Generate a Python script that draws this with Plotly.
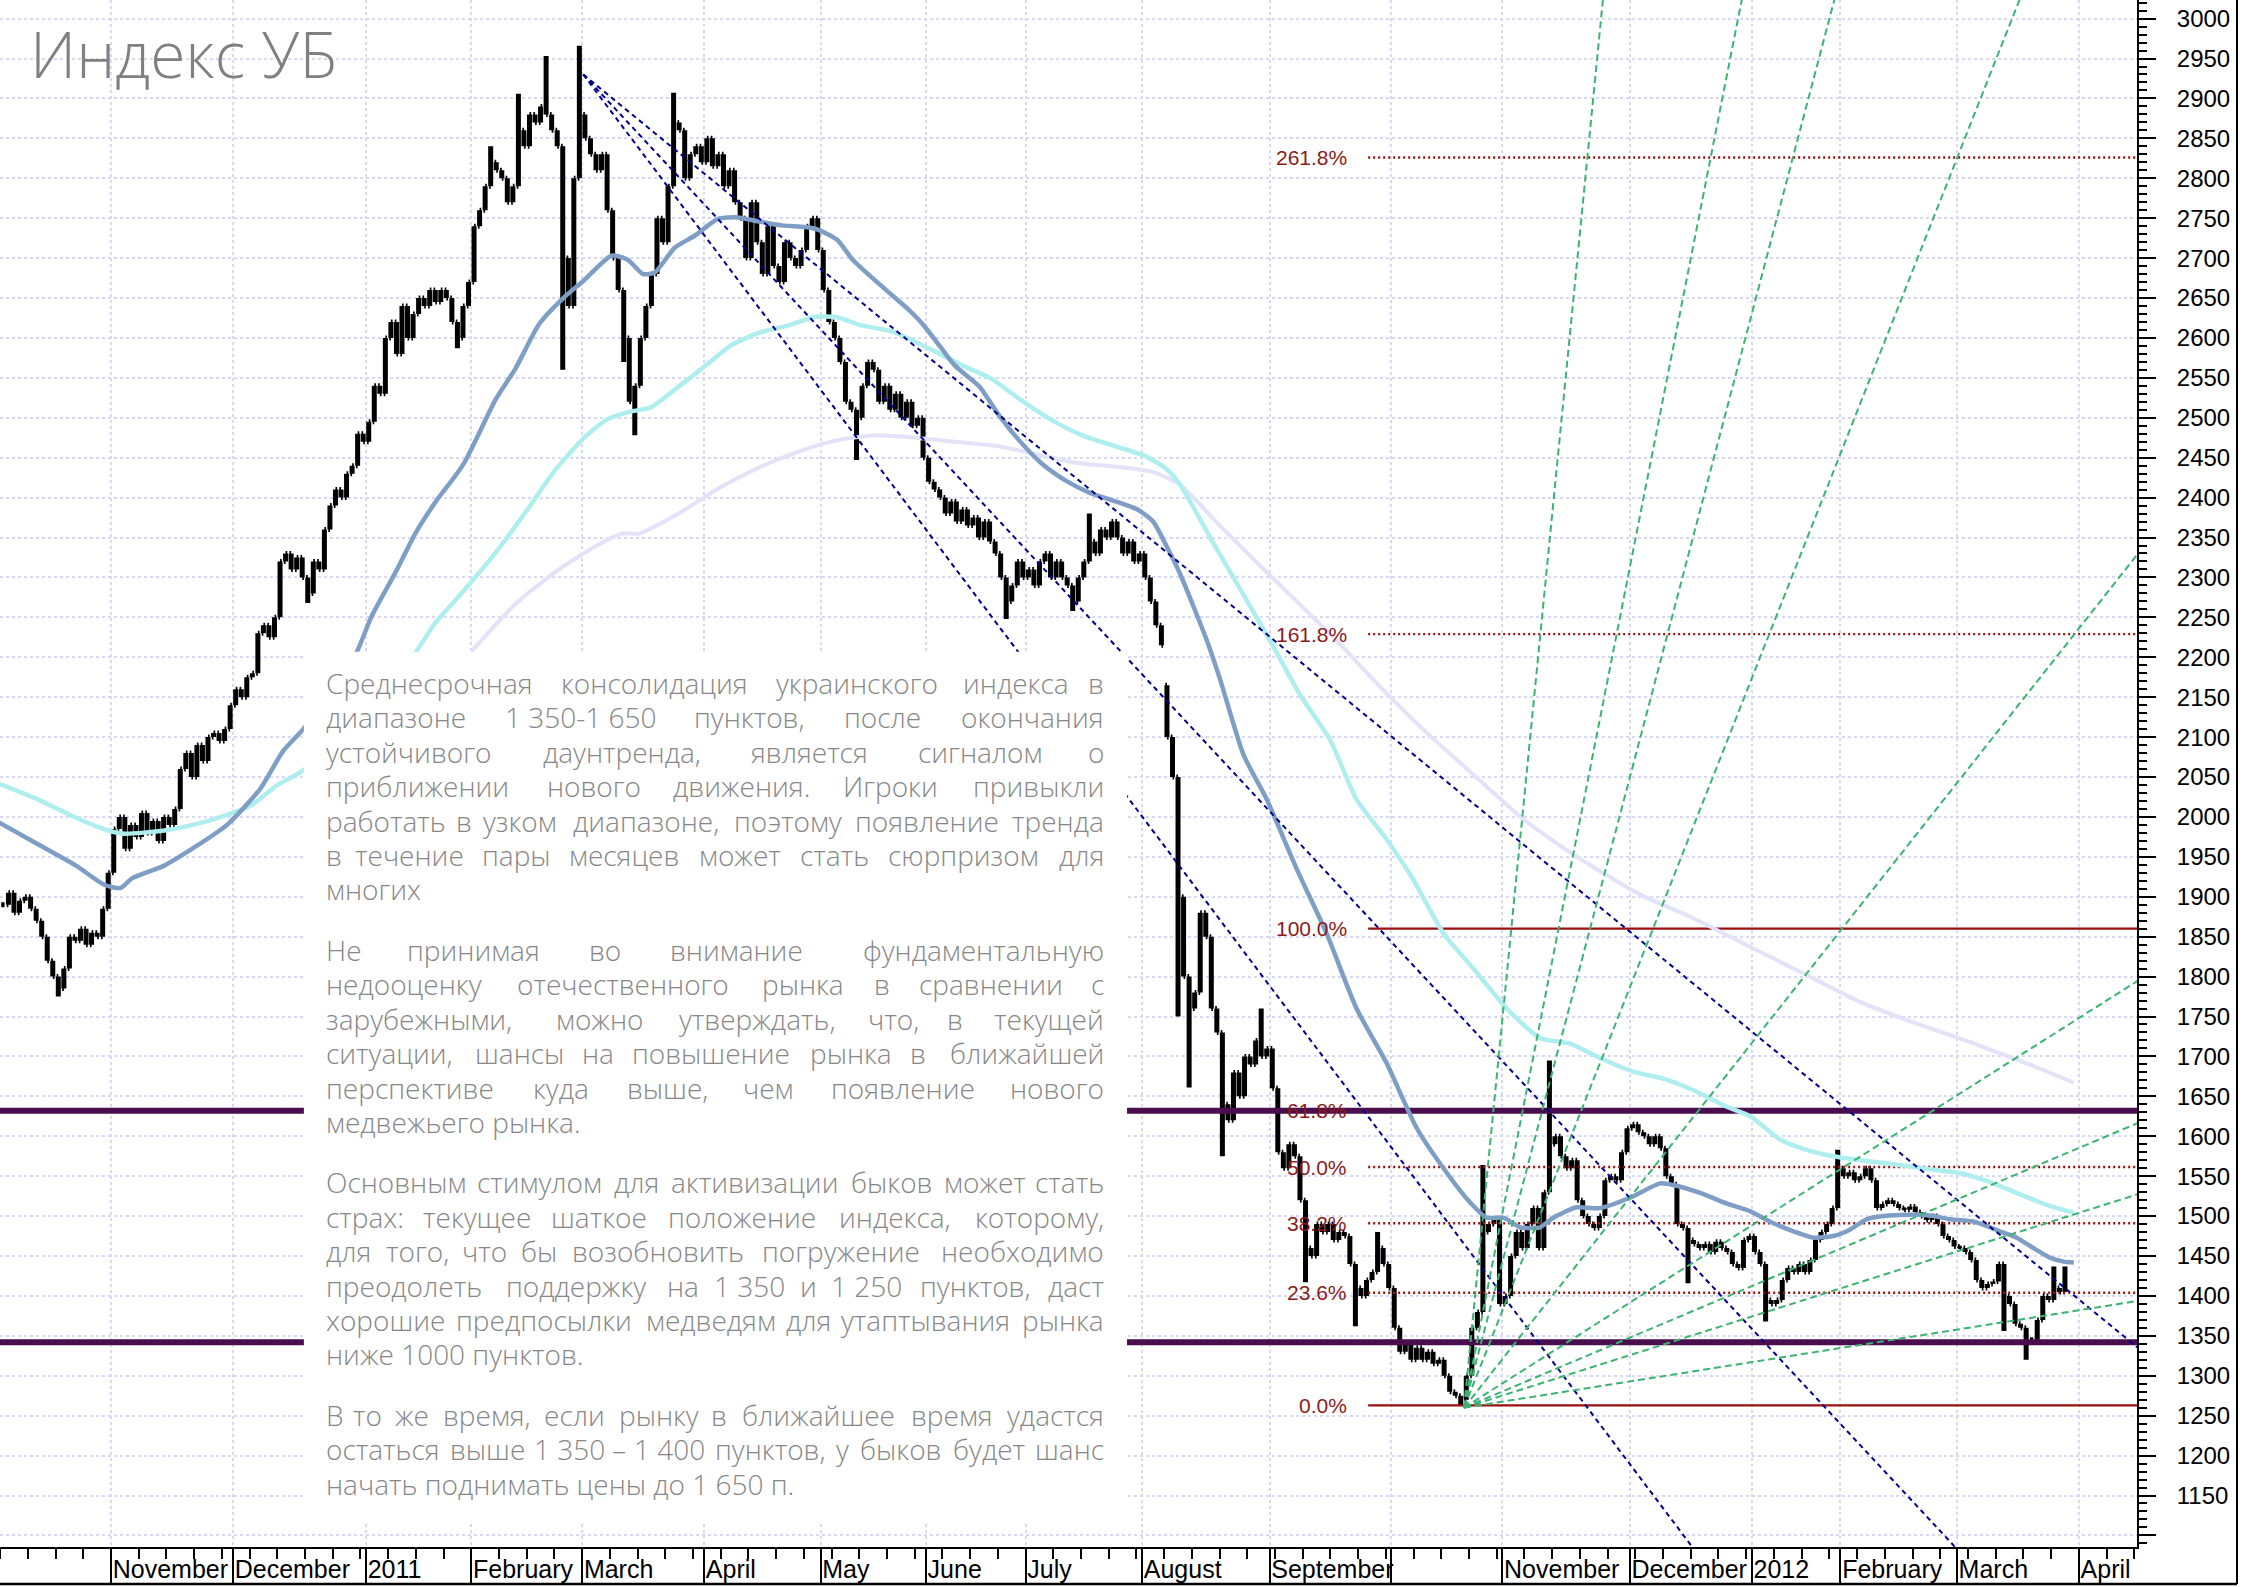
import plotly.graph_objects as go

# ---------------- data ----------------
# daily closes, trading-day index 0..372 (Oct 2010 .. end of March 2012)
close = [
    1890, 1905, 1880, 1895, 1900, 1885, 1870, 1850, 1820, 1800,
    1785, 1810, 1850, 1845, 1860, 1840, 1855, 1850, 1885, 1930,
    1985, 2000, 1960, 1990, 1975, 2005, 1980, 1995, 1970, 2000,
    1990, 2010, 2060, 2080, 2050, 2090, 2070, 2100, 2105, 2095,
    2110, 2140, 2160, 2150, 2175, 2180, 2230, 2240, 2225, 2250,
    2320, 2330, 2310, 2325, 2300, 2280, 2320, 2310, 2360, 2390,
    2410, 2400, 2430, 2440, 2480, 2470, 2495, 2540, 2530, 2600,
    2620, 2580, 2640, 2600, 2630, 2650, 2640, 2660, 2645, 2660,
    2650, 2620, 2600, 2640, 2670, 2740, 2760, 2790, 2820, 2810,
    2800, 2770, 2790, 2860, 2840, 2880, 2870, 2890, 2880, 2860,
    2840, 2700, 2640, 2800, 2880, 2850, 2830, 2810, 2830, 2760,
    2700, 2660, 2600, 2520, 2540, 2600, 2640, 2680, 2750, 2720,
    2790, 2870, 2860, 2800, 2830, 2840, 2820, 2850, 2815, 2830,
    2790, 2810, 2770, 2750, 2700, 2770, 2720, 2680, 2740, 2690,
    2670, 2720, 2700, 2690, 2710, 2740, 2750, 2710, 2660, 2620,
    2600, 2570, 2520, 2510, 2500, 2540, 2570, 2560, 2520, 2540,
    2510, 2530, 2500, 2520, 2490, 2500, 2450, 2420, 2410, 2400,
    2380, 2395, 2370, 2385, 2365, 2375, 2350, 2370, 2345, 2330,
    2300, 2270, 2290, 2320, 2300, 2310, 2290, 2320, 2330, 2300,
    2320, 2300, 2290, 2270, 2300, 2320, 2345, 2330, 2360, 2350,
    2370, 2350, 2330, 2345, 2320, 2330, 2300, 2270, 2240, 2215,
    2100, 2050, 1900, 1800, 1760, 1780, 1880, 1850, 1760, 1730,
    1640, 1620, 1680, 1650, 1700, 1690, 1720, 1700, 1710, 1660,
    1580, 1560, 1590, 1575, 1520, 1460, 1450, 1490, 1480, 1490,
    1470, 1480, 1475, 1440, 1410, 1400, 1420, 1430, 1460, 1440,
    1410, 1360, 1330, 1340, 1320, 1335, 1320, 1330, 1315, 1320,
    1300, 1280, 1275, 1270, 1300, 1360, 1380, 1480, 1490, 1495,
    1390, 1400, 1450, 1480, 1460, 1490, 1510, 1460, 1530, 1590,
    1600, 1575, 1560, 1570, 1520, 1500, 1490, 1485, 1500, 1545,
    1550, 1545, 1580, 1610, 1615, 1605, 1600, 1590, 1600, 1585,
    1550, 1540, 1490, 1485, 1470, 1465, 1460, 1465, 1455, 1468,
    1460, 1455, 1440, 1435, 1470, 1475, 1455, 1440, 1395, 1390,
    1395, 1420, 1435, 1430, 1440, 1430, 1445, 1470, 1480, 1490,
    1510, 1560, 1550, 1555, 1545, 1550, 1560, 1545, 1510, 1515,
    1520, 1515, 1510, 1508, 1512, 1505, 1500, 1495, 1500, 1490,
    1475, 1470, 1462, 1460, 1455, 1445, 1420, 1410, 1415, 1418,
    1440, 1400, 1390, 1365, 1360, 1345, 1345, 1370, 1400, 1395,
    1410, 1405, 1420,
]
gap_open = {210: 2165}
wick_hi = {88: 2840, 93: 2906, 98: 2953, 104: 2966, 121: 2907, 196: 2380,
           227: 1760, 248: 1480, 267: 1564, 279: 1695, 331: 1583, 370: 1437, 372: 1437}
wick_lo = {10: 1775, 55: 2268, 82: 2587, 101: 2560, 112: 2570, 114: 2478, 154: 2447,
           181: 2248, 193: 2258, 212: 1750, 214: 1661, 220: 1575, 235: 1417, 244: 1362,
           263: 1263, 304: 1416, 318: 1368, 361: 1356, 365: 1320}

month_ticks = [19.5, 41.5, 65.5, 84.5, 104.5, 126.5, 147.5, 166.5, 184.5, 205.5,
               228.5, 250.5, 270.5, 293.5, 315.5, 331.5, 352.5, 374.5]
month_labels = ["November", "December", "2011", "February", "March", "April", "May",
                "June", "July", "August", "September", "", "November", "December",
                "2012", "February", "March", "April"]
y_tick_vals = list(range(1100, 3001, 50))
y_tick_text = ["" if v == 1100 else str(v) for v in y_tick_vals]

ma_blue = [(-1.2, 1995), (6.0, 1967), (13.2, 1939), (18.3, 1915), (21.2, 1911), (23.3, 1923),
           (29.1, 1939), (34.8, 1963), (40.6, 1991), (46.4, 2035), (50.6, 2083), (54.3, 2111),
           (63.6, 2203), (66.5, 2251), (70.8, 2306), (74.4, 2355), (78.0, 2394), (83.1, 2442),
           (88.9, 2523), (92.5, 2562), (96.8, 2618), (101.1, 2650), (104.8, 2672), (109.8, 2703),
           (112.7, 2698), (115.5, 2680), (117.6, 2682), (121.2, 2713), (124.8, 2728), (129.0, 2749),
           (132.6, 2751), (136.2, 2746), (140.5, 2741), (144.8, 2739), (146.9, 2736), (150.5, 2723),
           (153.3, 2698), (159.0, 2662), (163.3, 2636), (166.1, 2616), (169.0, 2590), (171.8, 2565),
           (176.2, 2539), (179.7, 2503), (183.3, 2472), (187.5, 2442), (191.8, 2421), (196.1, 2406),
           (200.4, 2396), (204.7, 2385), (207.5, 2370), (210.3, 2334), (212.4, 2304), (217.2, 2221),
           (219.6, 2172), (223.8, 2078), (228.0, 2022), (233.4, 1935), (238.8, 1854), (244.2, 1760),
           (249.6, 1692), (255.0, 1611), (260.5, 1554), (264.7, 1517), (267.7, 1498), (270.7, 1498),
           (273.7, 1486), (277.3, 1486), (279.7, 1498), (283.9, 1511), (288.1, 1510), (293.5, 1523),
           (299.0, 1541), (301.3, 1539), (306.2, 1529), (310.9, 1516), (315.2, 1506), (319.4, 1491),
           (323.0, 1481), (326.6, 1473), (330.2, 1475), (333.2, 1483), (336.2, 1496), (339.3, 1500),
           (345.2, 1502), (348.3, 1500), (351.2, 1496), (355.6, 1493), (360.2, 1481), (363.3, 1473),
           (366.3, 1460), (369.3, 1448), (371.8, 1443), (373.6, 1442)]
ma_cyan = [(-1.2, 2043), (6.0, 2023), (13.2, 1999), (19.0, 1983), (21.9, 1979), (29.1, 1983),
           (34.8, 1991), (40.6, 2003), (44.9, 2015), (49.3, 2039), (54.3, 2059), (74.1, 2203),
           (78.0, 2243), (83.1, 2283), (88.9, 2331), (93.9, 2378), (99.7, 2435), (104.7, 2474),
           (109.0, 2498), (113.4, 2508), (116.9, 2513), (121.9, 2539), (127.6, 2570), (131.2, 2590),
           (136.2, 2606), (141.9, 2616), (146.2, 2626), (150.5, 2626), (154.7, 2616), (160.5, 2608),
           (164.7, 2595), (169.0, 2580), (173.3, 2565), (178.3, 2549), (183.3, 2524), (189.0, 2498),
           (194.7, 2478), (200.4, 2465), (206.1, 2452), (209.7, 2437), (212.4, 2416), (217.8, 2350),
           (223.0, 2288), (228.6, 2221), (234.0, 2153), (239.4, 2097), (244.2, 2022), (249.6, 1972),
           (254.4, 1922), (259.9, 1854), (265.3, 1810), (271.3, 1760), (277.3, 1723), (282.7, 1716),
           (288.1, 1698), (294.1, 1681), (300.1, 1671), (304.9, 1658), (311.0, 1637), (315.2, 1625),
           (320.6, 1596), (325.4, 1583), (330.2, 1575), (336.2, 1569), (342.2, 1564), (348.3, 1558),
           (353.0, 1554), (357.9, 1544), (363.3, 1529), (368.7, 1514), (373.6, 1504)]
ma_lav = [(84.5, 2207), (92.5, 2267), (99.7, 2307), (106.9, 2339), (111.8, 2355), (114.8, 2355),
          (121.9, 2380), (129.0, 2411), (136.2, 2437), (143.3, 2457), (150.5, 2472), (157.6, 2478),
          (164.7, 2475), (171.8, 2470), (179.0, 2465), (186.1, 2455), (193.3, 2444), (200.4, 2439),
          (207.5, 2432), (212.4, 2416), (219.1, 2368), (226.9, 2314), (240.6, 2221), (247.2, 2172),
          (256.3, 2109), (265.3, 2053), (274.3, 1997), (283.3, 1953), (295.3, 1903), (304.4, 1875),
          (314.7, 1839), (325.1, 1803), (335.4, 1767), (345.7, 1740), (353.7, 1721), (360.2, 1704),
          (366.3, 1688), (373.6, 1667)]

fib_low, fib_high = 1263, 1860
fib_ratios = [0.0, 0.236, 0.382, 0.5, 0.618, 1.0, 1.618, 2.618]
fib_labels = ["0.0%", "23.6%", "38.2%", "50.0%", "61.8%", "100.0%", "161.8%", "261.8%"]
fib_start = 246.3
fib_label_x = 242.8
sr_levels = [1342, 1632]

trend_pivot = (104.7, 2930)
trend_slopes = [-5.687, -7.453, -9.219]
fan_origin = (263.6, 1260)
fan_unit = 8.8
fan_ratios = [8, 4, 3, 2, 1, 1 / 2, 1 / 3, 1 / 4, 1 / 8]

paragraphs = [
    ["Среднесрочная консолидация украинского индекса в",
     "диапазоне 1\u00a0350-1\u00a0650 пунктов, после окончания",
     "устойчивого даунтренда, является сигналом о",
     "приближении нового движения. Игроки привыкли",
     "работать в узком диапазоне, поэтому появление тренда",
     "в течение пары месяцев может стать сюрпризом для",
     "многих"],
    ["Не принимая во внимание фундаментальную",
     "недооценку отечественного рынка в сравнении с",
     "зарубежными, можно утверждать, что, в текущей",
     "ситуации, шансы на повышение рынка в ближайшей",
     "перспективе куда выше, чем появление нового",
     "медвежьего рынка."],
    ["Основным стимулом для активизации быков может стать",
     "страх: текущее шаткое положение индекса, которому,",
     "для того, что бы возобновить погружение необходимо",
     "преодолеть поддержку на 1\u00a0350 и 1\u00a0250 пунктов, даст",
     "хорошие предпосылки медведям для утаптывания рынка",
     "ниже 1000 пунктов."],
    ["В то же время, если рынку в ближайшее время удастся",
     "остаться выше 1\u00a0350 – 1\u00a0400 пунктов, у быков будет шанс",
     "начать поднимать цены до 1\u00a0650 п."],
]
title_text = "Индекс УБ"

# ---------------- layout constants ----------------
W, H = 2246, 1587
PLOT_R, PLOT_B = 2137, 1547
X_RANGE = [-0.52, 385.0]
Y_RANGE = [1085.5, 3023.3]
AXIS_FONT = "Liberation Sans, Arial, sans-serif"
NARROW = "Liberation Sans Narrow, Arial Narrow, Liberation Sans, sans-serif"
TEXT_FONT = "Open Sans, Noto Sans, sans-serif"
TEXT_SIZE = 28
TEXT_COLOR = "#878787"
TEXT_L, TEXT_R = 324, 1106
LINE0, LINE_H, PARA_STEP = 683, 34.4, 60.5


def px(xp):
    return xp / PLOT_R


def py(yp):
    return 1 - yp / PLOT_B


# ---------------- figure ----------------
n = len(close)
xs = list(range(n))
opens = [close[0]] + close[:-1]
for k, v in gap_open.items():
    opens[k] = v
highs = [max(o, c, wick_hi.get(i, c)) for i, (o, c) in enumerate(zip(opens, close))]
lows = [min(o, c, wick_lo.get(i, c)) for i, (o, c) in enumerate(zip(opens, close))]

fig = go.Figure()

# fib levels
for r, lab in zip(fib_ratios, fib_labels):
    lvl = fib_low + r * (fib_high - fib_low)
    solid = r in (0.0, 1.0)
    fig.add_trace(go.Scatter(x=[fib_start, X_RANGE[1]], y=[lvl, lvl], mode="lines",
                             line=dict(color="#9b0f0f", width=2.2 if solid else 2.4,
                                       dash="solid" if solid else "2px,3px"),
                             hoverinfo="skip"))
    fig.add_annotation(x=fib_label_x, y=lvl, xref="x", yref="y", text=lab, showarrow=False,
                       xanchor="right", yanchor="middle",
                       font=dict(family=NARROW, size=21, color="#8b1a1a"))

# support / resistance
for lvl in sr_levels:
    fig.add_trace(go.Scatter(x=X_RANGE, y=[lvl, lvl], mode="lines",
                             line=dict(color="#4a0d4e", width=6), hoverinfo="skip"))

# bars
fig.add_trace(go.Ohlc(x=xs, open=opens, high=highs, low=lows, close=close,
                      increasing=dict(line=dict(color="black", width=5)),
                      decreasing=dict(line=dict(color="black", width=5)),
                      tickwidth=0.3, hoverinfo="skip"))

# moving averages
for pts, col, w in [(ma_lav, "#e2e2f8", 4), (ma_cyan, "#aeeeee", 4.5), (ma_blue, "#7f9ec6", 4.5)]:
    fig.add_trace(go.Scatter(x=[p[0] for p in pts], y=[p[1] for p in pts], mode="lines",
                             line=dict(color=col, width=w, shape="spline", smoothing=0.6),
                             hoverinfo="skip"))

# trend lines from the March 2011 top
x_end = 392
for s in trend_slopes:
    fig.add_trace(go.Scatter(x=[trend_pivot[0], x_end],
                             y=[trend_pivot[1], trend_pivot[1] + s * (x_end - trend_pivot[0])],
                             mode="lines", line=dict(color="#00008b", width=2, dash="5px,4px"),
                             hoverinfo="skip"))

# Gann fan from the October 2011 low
for r in fan_ratios:
    fig.add_trace(go.Scatter(x=[fan_origin[0], x_end],
                             y=[fan_origin[1], fan_origin[1] + r * fan_unit * (x_end - fan_origin[0])],
                             mode="lines", line=dict(color="#3cb371", width=2, dash="7px,4px"),
                             hoverinfo="skip"))

# white text panel
fig.add_shape(type="rect", xref="x", yref="y", x0=54.3, x1=202.8, y0=1118, y1=2207,
              fillcolor="white", line=dict(width=0), layer="above")

# frame
fr_x, fr_y = px(2237), py(1584)
fig.add_shape(type="line", xref="paper", yref="paper", x0=fr_x, x1=fr_x, y0=fr_y, y1=1.0,
              line=dict(color="black", width=2))
fig.add_shape(type="line", xref="paper", yref="paper", x0=0, x1=fr_x, y0=fr_y, y1=fr_y,
              line=dict(color="black", width=2.5))

# title
fig.add_annotation(x=px(28), y=py(54), xref="paper", yref="paper", text=title_text,
                   showarrow=False, xanchor="left", yanchor="middle",
                   font=dict(family=TEXT_FONT, size=64, color="#808080", weight=300))

# justified paragraphs
CHAR_EM = {' ': 0.26, ',': 0.25, '.': 0.26, ':': 0.26, '-': 0.32, '–': 0.5, '\u00a0': 0.26,
           'а': 0.55, 'б': 0.6, 'в': 0.56, 'г': 0.44, 'д': 0.6, 'е': 0.56, 'ж': 0.82, 'з': 0.49,
           'и': 0.63, 'й': 0.63, 'к': 0.53, 'л': 0.6, 'м': 0.74, 'н': 0.63, 'о': 0.6, 'п': 0.62,
           'р': 0.61, 'с': 0.48, 'т': 0.47, 'у': 0.5, 'ф': 0.75, 'х': 0.52, 'ц': 0.63, 'ч': 0.58,
           'ш': 0.88, 'щ': 0.9, 'ъ': 0.64, 'ы': 0.8, 'ь': 0.56, 'э': 0.5, 'ю': 0.85, 'я': 0.56}


def est_w(word):
    t = 0.0
    for ch in word:
        if ch in CHAR_EM:
            t += CHAR_EM[ch]
        elif ch.isdigit():
            t += 0.57
        elif ch.isupper():
            t += 0.68
        else:
            t += 0.58
    return t * TEXT_SIZE


tfont = dict(family=TEXT_FONT, size=TEXT_SIZE, color=TEXT_COLOR, weight=300)
yline = LINE0
for pi, para in enumerate(paragraphs):
    for li, line in enumerate(para):
        last = li == len(para) - 1
        words = line.split(" ")
        if last or len(words) == 1:
            fig.add_annotation(x=px(TEXT_L), y=py(yline), xref="paper", yref="paper", text=line,
                               showarrow=False, xanchor="left", yanchor="middle", font=tfont)
        else:
            ws = [est_w(w) for w in words]
            gap = (TEXT_R - TEXT_L - sum(ws)) / (len(words) - 1)
            pos = TEXT_L
            for k, (w, wd) in enumerate(zip(words, ws)):
                if k == 0:
                    xa, xx = "left", TEXT_L
                elif k == len(words) - 1:
                    xa, xx = "right", TEXT_R
                else:
                    xa, xx = "center", pos + wd / 2
                fig.add_annotation(x=px(xx), y=py(yline), xref="paper", yref="paper", text=w,
                                   showarrow=False, xanchor=xa, yanchor="middle", font=tfont)
                pos += wd + gap
        if not last:
            yline += LINE_H
    yline += PARA_STEP

fig.update_layout(
    width=W, height=H, margin=dict(l=0, r=W - PLOT_R, t=0, b=H - PLOT_B, autoexpand=False),
    paper_bgcolor="white", plot_bgcolor="white", showlegend=False,
    xaxis=dict(range=X_RANGE, tickmode="array", tickvals=month_ticks, ticktext=month_labels,
               ticks="outside", ticklen=36, tickwidth=1.5, tickcolor="black", tickangle=0,
               ticklabelposition="outside right", ticklabelstandoff=-1, automargin=False,
               tickfont=dict(family=AXIS_FONT, size=25, color="black"),
               showgrid=True, gridcolor="#d8d8f2", griddash="dot", gridwidth=1.5,
               showline=True, linecolor="black", linewidth=2, zeroline=False,
               rangeslider=dict(visible=False),
               minor=dict(tickmode="linear", tick0=4.5, dtick=5, ticks="outside", ticklen=10,
                          tickwidth=1.5, tickcolor="black", showgrid=False)),
    yaxis=dict(side="right", range=Y_RANGE, tickmode="array", tickvals=y_tick_vals,
               ticktext=y_tick_text, ticks="outside", ticklen=17, tickwidth=2, tickcolor="black",
               ticklabelstandoff=16, automargin=False,
               tickfont=dict(family=AXIS_FONT, size=24, color="black"),
               showgrid=True, gridcolor="#d8d8f2", griddash="dot", gridwidth=1.5,
               showline=True, linecolor="black", linewidth=2, zeroline=False,
               minor=dict(tickmode="linear", tick0=1100, dtick=10, ticks="outside", ticklen=8,
                          tickwidth=1.5, tickcolor="black", showgrid=False)),
)

fig.write_html("out.html", config={"displayModeBar": False},
               post_script="document.body.style.margin='0px';")
